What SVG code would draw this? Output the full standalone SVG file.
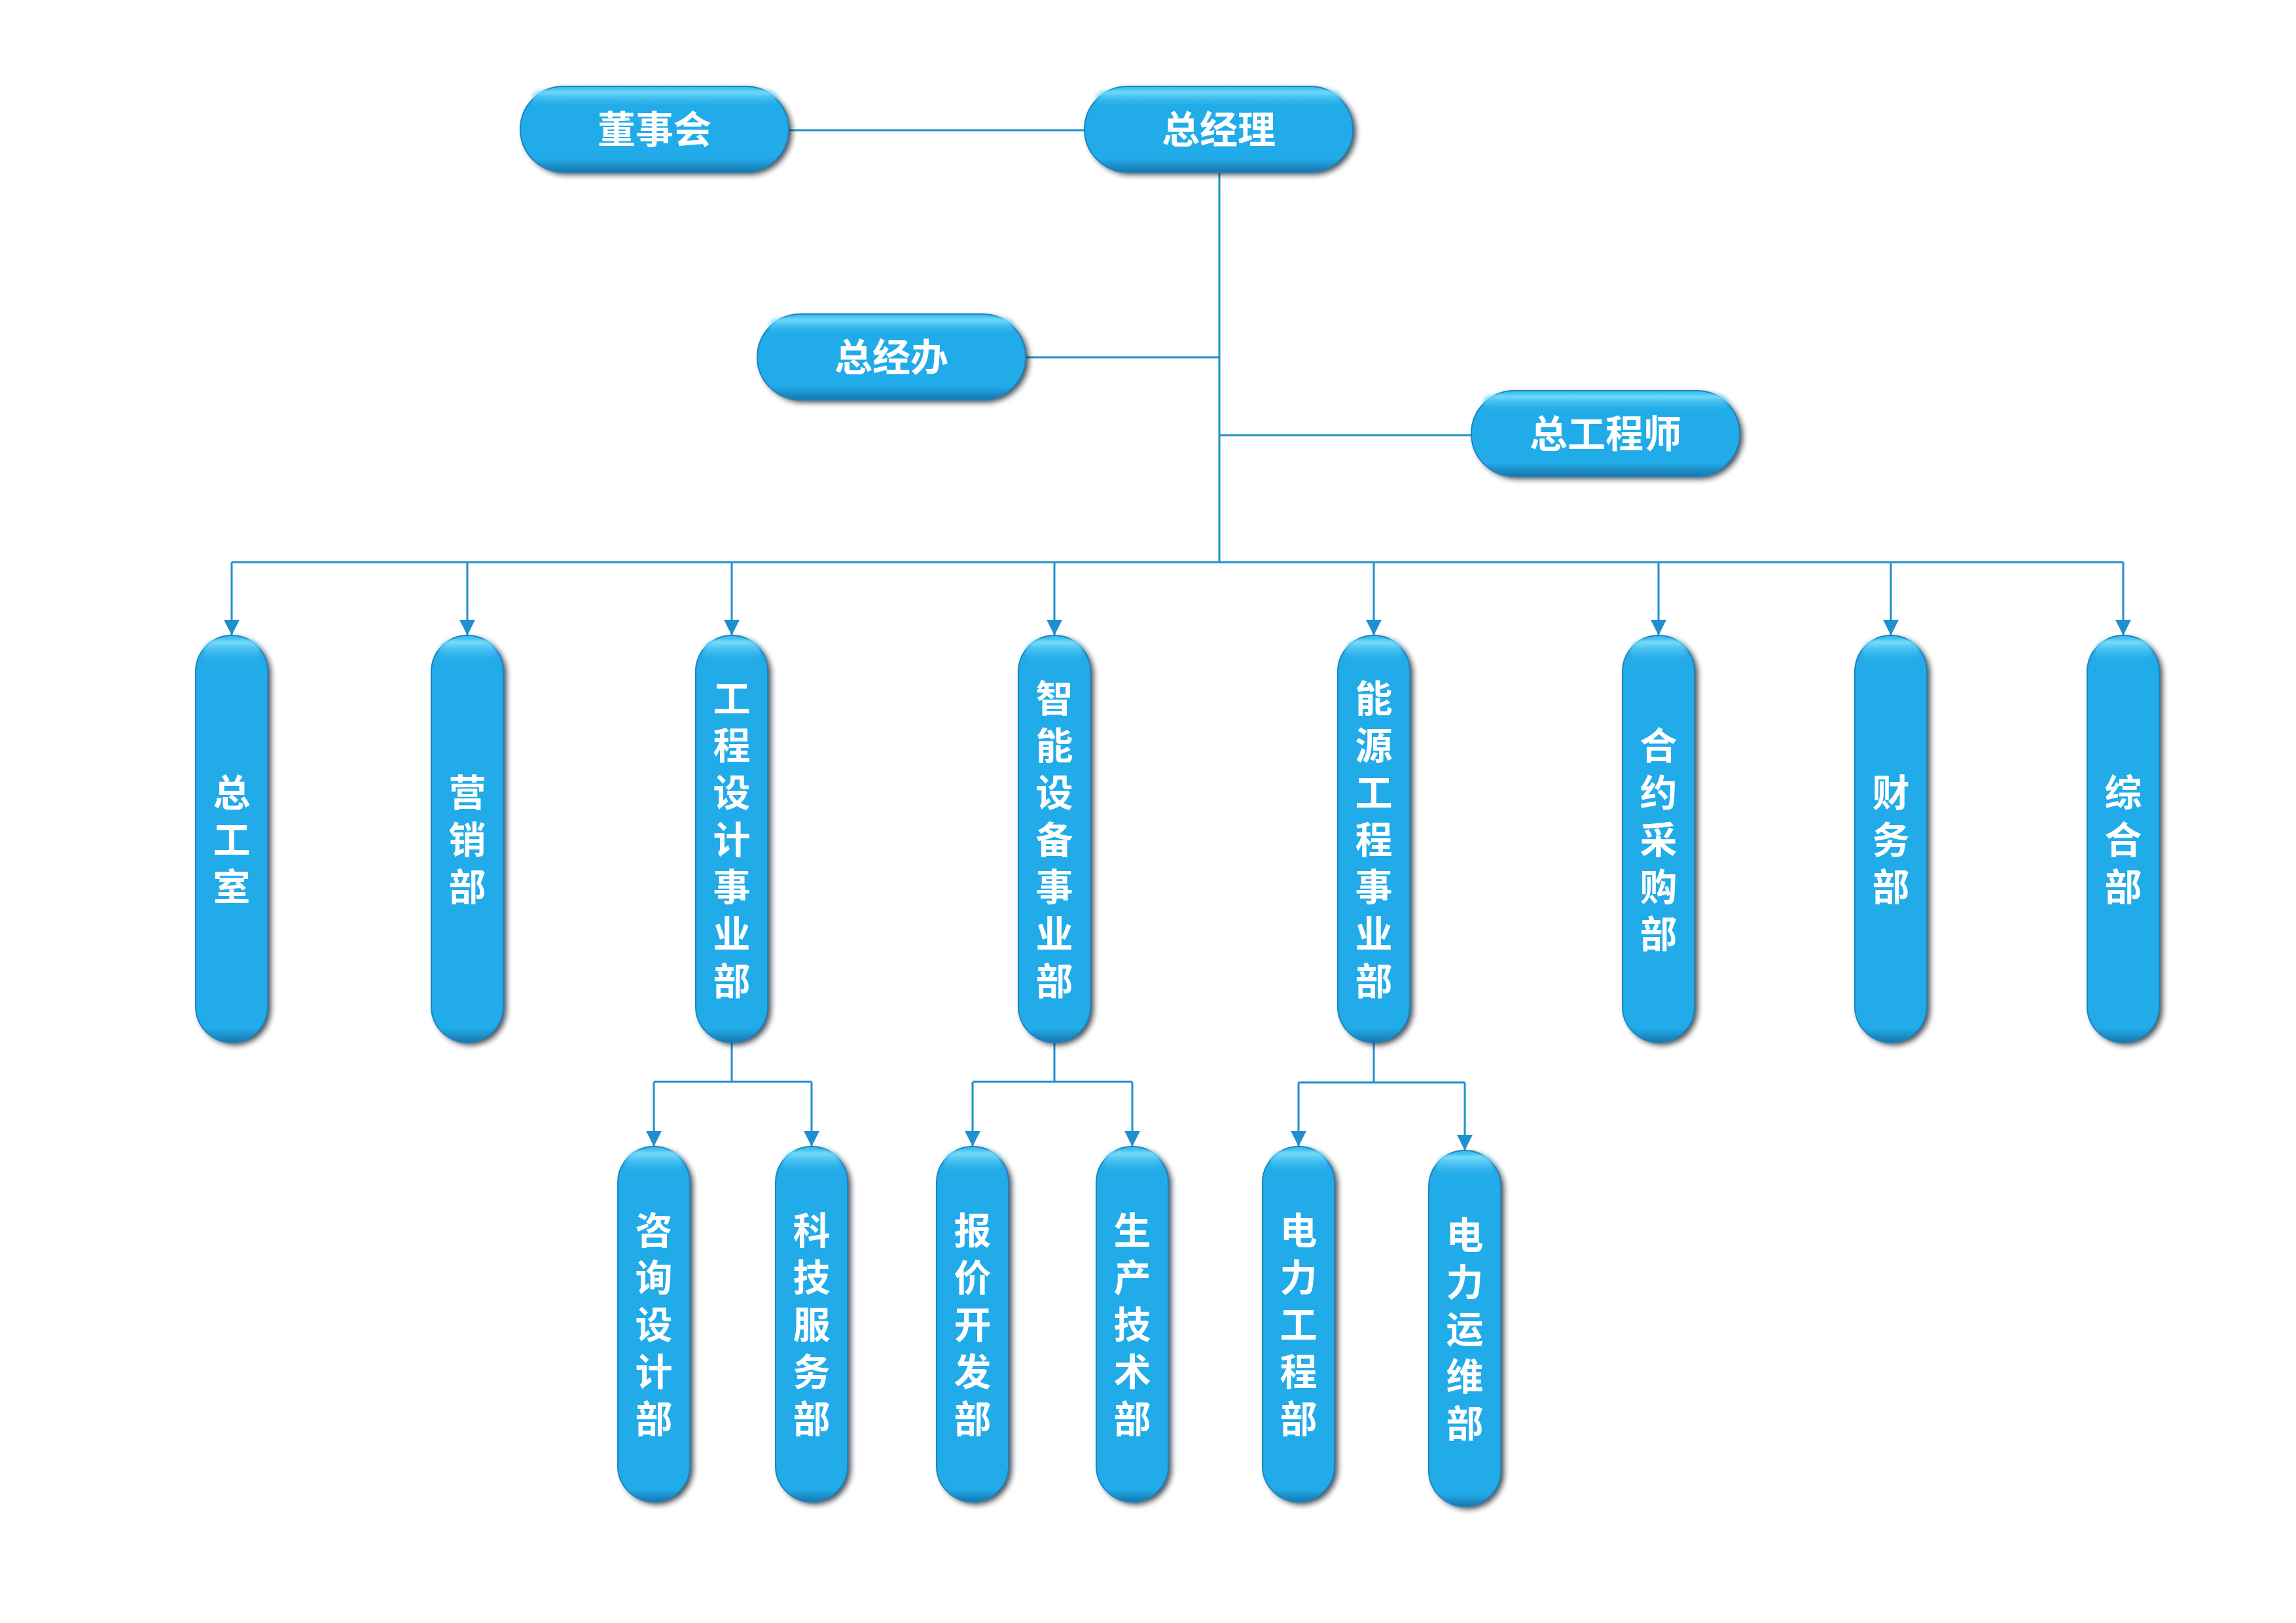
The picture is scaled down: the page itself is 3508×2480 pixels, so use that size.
<svg xmlns="http://www.w3.org/2000/svg" width="3508" height="2480" viewBox="0 0 3508 2480">
<defs>
  <style>
    .sh { fill: #17232e; opacity: 0.8; filter: url(#blur4); }
    .bodyH { fill: url(#gH); stroke: #1a84c0; stroke-width: 2; }
    .bodyV { fill: url(#gV); stroke: #1a84c0; stroke-width: 2; }
    .hl { fill: url(#gHL); filter: url(#blur2); }
    .t { font-family: "Noto Sans CJK SC", "Noto Sans", sans-serif; font-weight: bold; fill: #ffffff; text-anchor: middle; }
    .th { font-size: 58px; }
    .tv { font-size: 57px; writing-mode: vertical-rl; }
    .c { fill: none; stroke: #1f8fd0; stroke-width: 3; }
    .ca { fill: none; stroke: #1f8fd0; stroke-width: 3; marker-end: url(#arr); }
  </style>
  <linearGradient id="gH" x1="0" y1="0" x2="0" y2="1">
    <stop offset="0" stop-color="#3fc2f2"/>
    <stop offset="0.1" stop-color="#22abe9"/>
    <stop offset="0.84" stop-color="#22abe9"/>
    <stop offset="1" stop-color="#1676ad"/>
  </linearGradient>
  <linearGradient id="gV" x1="0" y1="0" x2="0" y2="1">
    <stop offset="0" stop-color="#3fc2f2"/>
    <stop offset="0.025" stop-color="#22abe9"/>
    <stop offset="0.965" stop-color="#22abe9"/>
    <stop offset="1" stop-color="#1676ad"/>
  </linearGradient>
  <linearGradient id="gHL" x1="0" y1="0" x2="0" y2="1">
    <stop offset="0" stop-color="#8eeaff" stop-opacity="0.95"/>
    <stop offset="1" stop-color="#22abe9" stop-opacity="0"/>
  </linearGradient>
  <filter id="blur4" x="-30%" y="-30%" width="160%" height="160%"><feGaussianBlur stdDeviation="4"/></filter>
  <filter id="blur2" x="-30%" y="-30%" width="160%" height="160%"><feGaussianBlur stdDeviation="2.5"/></filter>
  <marker id="arr" markerUnits="userSpaceOnUse" markerWidth="24" markerHeight="24" viewBox="0 0 24 24" refX="24" refY="12" orient="auto">
    <path d="M0,0 L24,12 L0,24 z" fill="#1f8fd0"/>
  </marker>
</defs>
<rect x="0" y="0" width="3508" height="2480" fill="#ffffff"/>

<g id="connectors">
  <path class="c" d="M1205,199 H1657"/>
  <path class="c" d="M1863,263 V859"/>
  <path class="c" d="M1567,546 H1863"/>
  <path class="c" d="M1863,665 H2248"/>
  <path class="c" d="M354,859 H3244"/>
  <path class="ca" d="M354,859 V971"/>
  <path class="ca" d="M714,859 V971"/>
  <path class="ca" d="M1118,859 V971"/>
  <path class="ca" d="M1611,859 V971"/>
  <path class="ca" d="M2099,859 V971"/>
  <path class="ca" d="M2534,859 V971"/>
  <path class="ca" d="M2889,859 V971"/>
  <path class="ca" d="M3244,859 V971"/>
  <path class="c" d="M1118,1593 V1653 M999,1653 H1240"/>
  <path class="ca" d="M999,1653 V1752"/>
  <path class="ca" d="M1240,1653 V1752"/>
  <path class="c" d="M1611,1593 V1653 M1486,1653 H1730"/>
  <path class="ca" d="M1486,1653 V1752"/>
  <path class="ca" d="M1730,1653 V1752"/>
  <path class="c" d="M2099,1593 V1654 M1984,1654 H2238"/>
  <path class="ca" d="M1984,1654 V1752"/>
  <path class="ca" d="M2238,1654 V1758"/>
</g>

<g id="n-dongshihui">
  <rect class="sh" x="800" y="136" width="410" height="131" rx="65.5"/>
  <rect class="bodyH" x="795" y="132" width="410" height="131" rx="65.5"/>
  <rect class="hl" x="812" y="138" width="376" height="26" rx="13"/>
  <text class="t th" x="1000" y="219">董事会</text>
</g>
<g id="n-zongjingli">
  <rect class="sh" x="1662" y="136" width="410" height="131" rx="65.5"/>
  <rect class="bodyH" x="1657" y="132" width="410" height="131" rx="65.5"/>
  <rect class="hl" x="1674" y="138" width="376" height="26" rx="13"/>
  <text class="t th" x="1862" y="219">总经理</text>
</g>
<g id="n-zongjingban">
  <rect class="sh" x="1162" y="484" width="410" height="131" rx="65.5"/>
  <rect class="bodyH" x="1157" y="480" width="410" height="131" rx="65.5"/>
  <rect class="hl" x="1174" y="486" width="376" height="26" rx="13"/>
  <text class="t th" x="1362" y="567">总经办</text>
</g>
<g id="n-zonggongchengshi">
  <rect class="sh" x="2253" y="601" width="410" height="131" rx="65.5"/>
  <rect class="bodyH" x="2248" y="597" width="410" height="131" rx="65.5"/>
  <rect class="hl" x="2265" y="603" width="376" height="26" rx="13"/>
  <text class="t th" x="2453" y="684">总工程师</text>
</g>

<g id="n-zonggongshi">
  <rect class="sh" x="304" y="975" width="110" height="622" rx="55"/>
  <rect class="bodyV" x="299" y="971" width="110" height="622" rx="55"/>
  <rect class="hl" x="310" y="978" width="88" height="36" rx="18"/>
  <text class="t tv" x="354" y="1210">总</text>
  <text class="t tv" x="354" y="1282">工</text>
  <text class="t tv" x="354" y="1354">室</text>
</g>
<g id="n-yingxiaobu">
  <rect class="sh" x="664" y="975" width="110" height="622" rx="55"/>
  <rect class="bodyV" x="659" y="971" width="110" height="622" rx="55"/>
  <rect class="hl" x="670" y="978" width="88" height="36" rx="18"/>
  <text class="t tv" x="714" y="1210">营</text>
  <text class="t tv" x="714" y="1282">销</text>
  <text class="t tv" x="714" y="1354">部</text>
</g>
<g id="n-gongchengsheji">
  <rect class="sh" x="1068" y="975" width="110" height="622" rx="55"/>
  <rect class="bodyV" x="1063" y="971" width="110" height="622" rx="55"/>
  <rect class="hl" x="1074" y="978" width="88" height="36" rx="18"/>
  <text class="t tv" x="1118" y="1066">工</text>
  <text class="t tv" x="1118" y="1138">程</text>
  <text class="t tv" x="1118" y="1210">设</text>
  <text class="t tv" x="1118" y="1282">计</text>
  <text class="t tv" x="1118" y="1354">事</text>
  <text class="t tv" x="1118" y="1426">业</text>
  <text class="t tv" x="1118" y="1498">部</text>
</g>
<g id="n-zhinengshebei">
  <rect class="sh" x="1561" y="975" width="110" height="622" rx="55"/>
  <rect class="bodyV" x="1556" y="971" width="110" height="622" rx="55"/>
  <rect class="hl" x="1567" y="978" width="88" height="36" rx="18"/>
  <text class="t tv" x="1611" y="1066">智</text>
  <text class="t tv" x="1611" y="1138">能</text>
  <text class="t tv" x="1611" y="1210">设</text>
  <text class="t tv" x="1611" y="1282">备</text>
  <text class="t tv" x="1611" y="1354">事</text>
  <text class="t tv" x="1611" y="1426">业</text>
  <text class="t tv" x="1611" y="1498">部</text>
</g>
<g id="n-nengyuangongcheng">
  <rect class="sh" x="2049" y="975" width="110" height="622" rx="55"/>
  <rect class="bodyV" x="2044" y="971" width="110" height="622" rx="55"/>
  <rect class="hl" x="2055" y="978" width="88" height="36" rx="18"/>
  <text class="t tv" x="2099" y="1066">能</text>
  <text class="t tv" x="2099" y="1138">源</text>
  <text class="t tv" x="2099" y="1210">工</text>
  <text class="t tv" x="2099" y="1282">程</text>
  <text class="t tv" x="2099" y="1354">事</text>
  <text class="t tv" x="2099" y="1426">业</text>
  <text class="t tv" x="2099" y="1498">部</text>
</g>
<g id="n-heyuecaigou">
  <rect class="sh" x="2484" y="975" width="110" height="622" rx="55"/>
  <rect class="bodyV" x="2479" y="971" width="110" height="622" rx="55"/>
  <rect class="hl" x="2490" y="978" width="88" height="36" rx="18"/>
  <text class="t tv" x="2534" y="1138">合</text>
  <text class="t tv" x="2534" y="1210">约</text>
  <text class="t tv" x="2534" y="1282">采</text>
  <text class="t tv" x="2534" y="1354">购</text>
  <text class="t tv" x="2534" y="1426">部</text>
</g>
<g id="n-caiwubu">
  <rect class="sh" x="2839" y="975" width="110" height="622" rx="55"/>
  <rect class="bodyV" x="2834" y="971" width="110" height="622" rx="55"/>
  <rect class="hl" x="2845" y="978" width="88" height="36" rx="18"/>
  <text class="t tv" x="2889" y="1210">财</text>
  <text class="t tv" x="2889" y="1282">务</text>
  <text class="t tv" x="2889" y="1354">部</text>
</g>
<g id="n-zonghebu">
  <rect class="sh" x="3194" y="975" width="110" height="622" rx="55"/>
  <rect class="bodyV" x="3189" y="971" width="110" height="622" rx="55"/>
  <rect class="hl" x="3200" y="978" width="88" height="36" rx="18"/>
  <text class="t tv" x="3244" y="1210">综</text>
  <text class="t tv" x="3244" y="1282">合</text>
  <text class="t tv" x="3244" y="1354">部</text>
</g>

<g id="n-zixunsheji">
  <rect class="sh" x="949" y="1756" width="110" height="543" rx="55"/>
  <rect class="bodyV" x="944" y="1752" width="110" height="543" rx="55"/>
  <rect class="hl" x="955" y="1759" width="88" height="36" rx="18"/>
  <text class="t tv" x="999" y="1879">咨</text>
  <text class="t tv" x="999" y="1951">询</text>
  <text class="t tv" x="999" y="2023">设</text>
  <text class="t tv" x="999" y="2095">计</text>
  <text class="t tv" x="999" y="2167">部</text>
</g>
<g id="n-kejifuwu">
  <rect class="sh" x="1190" y="1756" width="110" height="543" rx="55"/>
  <rect class="bodyV" x="1185" y="1752" width="110" height="543" rx="55"/>
  <rect class="hl" x="1196" y="1759" width="88" height="36" rx="18"/>
  <text class="t tv" x="1240" y="1879">科</text>
  <text class="t tv" x="1240" y="1951">技</text>
  <text class="t tv" x="1240" y="2023">服</text>
  <text class="t tv" x="1240" y="2095">务</text>
  <text class="t tv" x="1240" y="2167">部</text>
</g>
<g id="n-baojiakaifa">
  <rect class="sh" x="1436" y="1756" width="110" height="543" rx="55"/>
  <rect class="bodyV" x="1431" y="1752" width="110" height="543" rx="55"/>
  <rect class="hl" x="1442" y="1759" width="88" height="36" rx="18"/>
  <text class="t tv" x="1486" y="1879">报</text>
  <text class="t tv" x="1486" y="1951">价</text>
  <text class="t tv" x="1486" y="2023">开</text>
  <text class="t tv" x="1486" y="2095">发</text>
  <text class="t tv" x="1486" y="2167">部</text>
</g>
<g id="n-shengchanjishu">
  <rect class="sh" x="1680" y="1756" width="110" height="543" rx="55"/>
  <rect class="bodyV" x="1675" y="1752" width="110" height="543" rx="55"/>
  <rect class="hl" x="1686" y="1759" width="88" height="36" rx="18"/>
  <text class="t tv" x="1730" y="1879">生</text>
  <text class="t tv" x="1730" y="1951">产</text>
  <text class="t tv" x="1730" y="2023">技</text>
  <text class="t tv" x="1730" y="2095">术</text>
  <text class="t tv" x="1730" y="2167">部</text>
</g>
<g id="n-dianligongcheng">
  <rect class="sh" x="1934" y="1756" width="110" height="543" rx="55"/>
  <rect class="bodyV" x="1929" y="1752" width="110" height="543" rx="55"/>
  <rect class="hl" x="1940" y="1759" width="88" height="36" rx="18"/>
  <text class="t tv" x="1984" y="1879">电</text>
  <text class="t tv" x="1984" y="1951">力</text>
  <text class="t tv" x="1984" y="2023">工</text>
  <text class="t tv" x="1984" y="2095">程</text>
  <text class="t tv" x="1984" y="2167">部</text>
</g>
<g id="n-dianliyunwei">
  <rect class="sh" x="2188" y="1762" width="110" height="544" rx="55"/>
  <rect class="bodyV" x="2183" y="1758" width="110" height="544" rx="55"/>
  <rect class="hl" x="2194" y="1765" width="88" height="36" rx="18"/>
  <text class="t tv" x="2238" y="1886">电</text>
  <text class="t tv" x="2238" y="1958">力</text>
  <text class="t tv" x="2238" y="2030">运</text>
  <text class="t tv" x="2238" y="2102">维</text>
  <text class="t tv" x="2238" y="2174">部</text>
</g>
</svg>
